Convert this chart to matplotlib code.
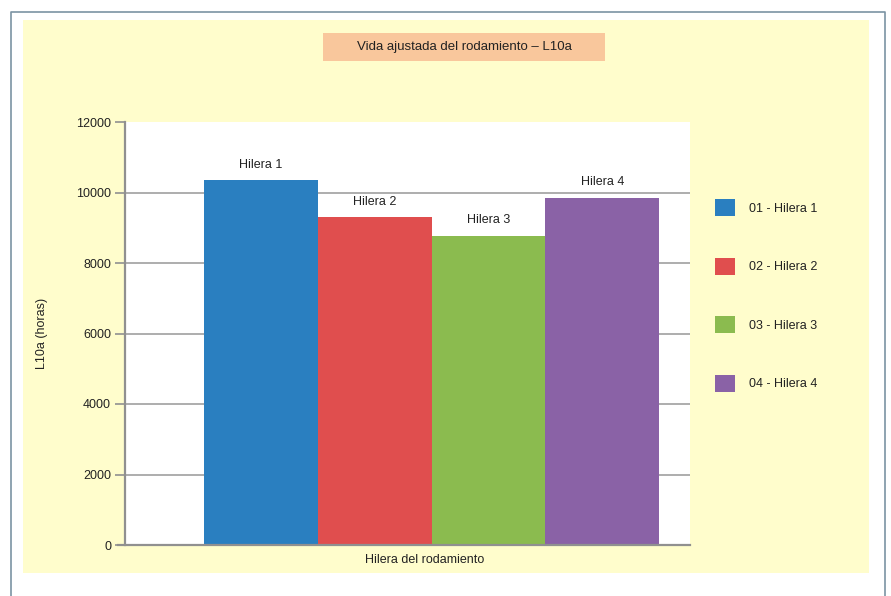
import matplotlib.pyplot as plt
from matplotlib.patches import Rectangle
from matplotlib.lines import Line2D

# data
hileras = ['Hilera 1', 'Hilera 2', 'Hilera 3', 'Hilera 4']
leyenda = ['01 - Hilera 1', '02 - Hilera 2', '03 - Hilera 3', '04 - Hilera 4']
l10a = [10350, 9300, 8770, 9850]
colores = ['#2a7fc0', '#e04e4e', '#8bbb4f', '#8a62a6']
yticks = [0, 2000, 4000, 6000, 8000, 10000, 12000]

plt.rcParams['font.family'] = ['Liberation Sans Narrow', 'Liberation Sans', 'DejaVu Sans']

W, H = 891, 596
fig = plt.figure(figsize=(W / 100, H / 100), dpi=100)
fig.patch.set_facecolor('white')

# yellow panel and outer frame (behind the axes)
fig.patches.append(Rectangle((23 / W, 1 - 573 / H), (869 - 23) / W, (573 - 20) / H,
                             transform=fig.transFigure, facecolor='#fffdcc', edgecolor='none', zorder=-1))
fig.lines.append(Line2D([11 / W, 11 / W, 885 / W, 885 / W], [0, 1 - 12 / H, 1 - 12 / H, 0],
                        transform=fig.transFigure, color='#7c93a3', lw=1.2))

# title box
fig.patches.append(Rectangle((323 / W, 1 - 61 / H), (605 - 323) / W, (61 - 33) / H,
                             transform=fig.transFigure, facecolor='#f9c79c', edgecolor='none', zorder=1))
fig.text(464 / W, 1 - 47 / H, 'Vida ajustada del rodamiento \u2013 L10a', ha='center', va='center',
         fontsize=9.5, color='#222222', zorder=2)

ax = fig.add_axes([125 / W, 1 - 545 / H, (690 - 125) / W, (545 - 122) / H])
ax.set_facecolor('white')

x = list(range(len(l10a)))
bars = ax.bar(x, l10a, width=1.0, color=colores, zorder=2)
for xi, v, lab in zip(x, l10a, hileras):
    ax.text(xi, v + 270, lab, ha='center', va='bottom', fontsize=9, color='#222222')

ax.set_xlim(-0.5 - 0.693, 3.5 + 0.27)
ax.set_ylim(0, 12000)
ax.set_yticks(yticks)
ax.set_yticklabels([str(t) for t in yticks], fontsize=9, color='#222222')
ax.set_xticks([])
# gridlines behind the bars (none at the top edge)
ax.hlines(yticks[1:-1], *ax.get_xlim(), color='#a0a0a0', lw=1.2, zorder=1)
ax.tick_params(axis='y', length=7, width=1.2, color='#909090', pad=3)
for s in ['top', 'right']:
    ax.spines[s].set_visible(False)
for s in ['left', 'bottom']:
    ax.spines[s].set_color('#909090')
    ax.spines[s].set_linewidth(1.6)
ax.spines['bottom'].set_bounds(-0.5 - 0.693 - 0.06, 3.5 + 0.27)

ax.text(1.44, -250, 'Hilera del rodamiento', ha='center', va='top', fontsize=9, color='#222222')
ax.set_ylabel('L10a (horas)', fontsize=9, color='#222222', labelpad=20)

handles = [Rectangle((0, 0), 1, 1, facecolor=c) for c in colores]
leg = fig.legend(handles, leyenda, loc='upper left', bbox_to_anchor=(704 / W, 1 - 188 / H),
                 frameon=False, fontsize=9, handlelength=1.6, handleheight=1.7,
                 labelspacing=3.33, handletextpad=1.1)
for t in leg.get_texts():
    t.set_color('#222222')

fig.savefig('out.png', dpi=100)
